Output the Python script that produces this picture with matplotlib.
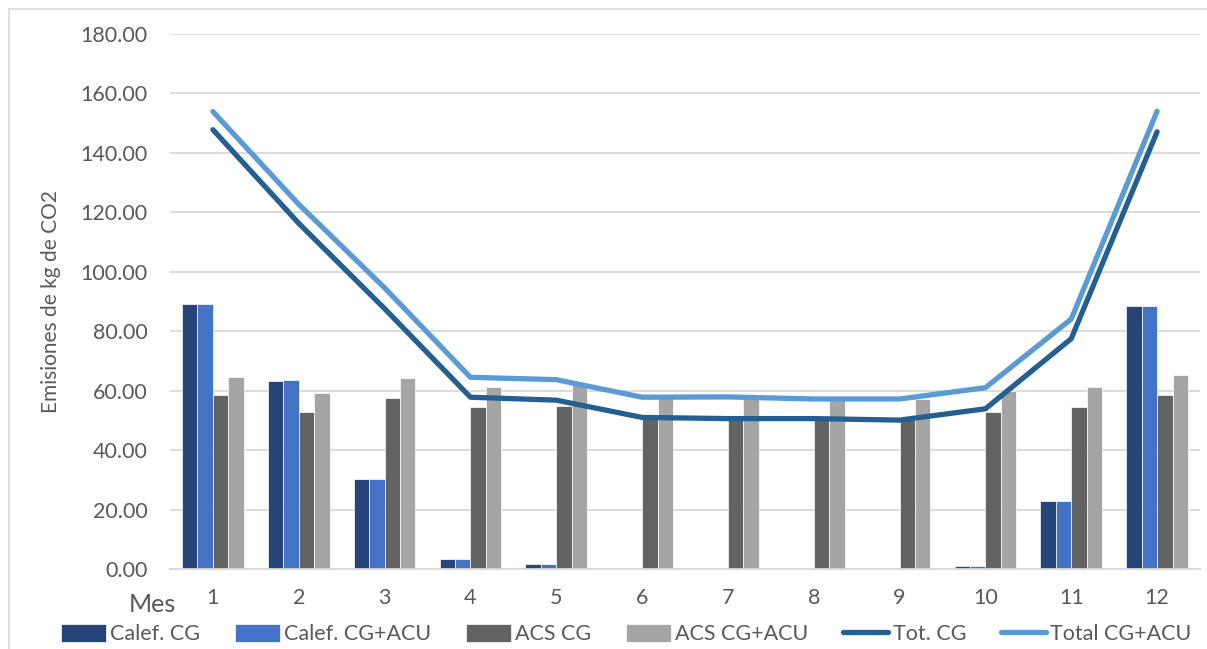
import numpy as np
import matplotlib.pyplot as plt
from matplotlib.patches import Rectangle

plt.rcParams['font.family'] = ['Lato', 'DejaVu Sans']

meses = [1, 2, 3, 4, 5, 6, 7, 8, 9, 10, 11, 12]
calef_cg = [89.2, 63.4, 30.2, 3.2, 1.8, 0.0, 0.0, 0.0, 0.0, 1.0, 23.0, 88.5]
calef_acu = [89.2, 63.6, 30.2, 3.2, 1.8, 0.0, 0.0, 0.0, 0.0, 1.0, 23.0, 88.6]
acs_cg = [58.6, 52.9, 57.4, 54.6, 55.0, 51.0, 50.6, 50.6, 50.1, 52.9, 54.5, 58.6]
acs_acu = [64.7, 59.1, 64.4, 61.3, 61.9, 57.8, 57.9, 57.2, 57.2, 60.0, 61.1, 65.4]
tot_cg = [147.8, 116.3, 87.6, 57.8, 56.8, 51.0, 50.6, 50.6, 50.1, 53.9, 77.5, 147.1]
total_acu = [153.9, 122.7, 94.6, 64.5, 63.7, 57.8, 57.9, 57.2, 57.2, 61.0, 84.1, 154.0]

W, H = 1207, 649
fig = plt.figure(figsize=(W / 100, H / 100), dpi=100)
ax = fig.add_axes([170 / W, 1 - 569 / H, (1200 - 170) / W, (569 - 34) / H])

x = np.arange(len(meses)) + 1
bw = 0.18
series = [
    (calef_cg, '#264478', 'Calef. CG'),
    (calef_acu, '#4472C4', 'Calef. CG+ACU'),
    (acs_cg, '#636363', 'ACS CG'),
    (acs_acu, '#A5A5A5', 'ACS CG+ACU'),
]
handles = []
for i, (vals, col, lab) in enumerate(series):
    b = ax.bar(x + (i - 1.5) * bw, vals, bw, color=col, edgecolor='#ffffff',
               linewidth=0.5, label=lab, zorder=2)
    handles.append(b)

l1, = ax.plot(x, tot_cg, color='#255E91', lw=3.8, solid_capstyle='round',
              solid_joinstyle='round', label='Tot. CG', zorder=3)
l2, = ax.plot(x, total_acu, color='#5B9BD5', lw=3.8, solid_capstyle='round',
              solid_joinstyle='round', label='Total CG+ACU', zorder=3)
handles += [l1, l2]

ax.set_xlim(0.5, 12.5)
ax.set_ylim(0, 180)
ax.set_yticks(np.arange(0, 181, 20))
ax.set_yticklabels(['%.2f' % v for v in np.arange(0, 181, 20)])
ax.set_xticks(x)
ax.set_xticklabels([str(m) for m in meses])
ax.grid(axis='y', color='#D9D9D9', lw=1.3, zorder=0)
ax.set_axisbelow(True)
for s in ['top', 'right', 'left']:
    ax.spines[s].set_visible(False)
ax.spines['bottom'].set_color('#D9D9D9')
ax.spines['bottom'].set_linewidth(1.3)
ax.tick_params(axis='both', length=0, labelsize=15.5, colors='#595959')
ax.tick_params(axis='y', pad=16)
ax.tick_params(axis='x', pad=14)

ax.set_ylabel('Emisiones de kg de CO2', fontsize=15, color='#595959', labelpad=14)
fig.text(176 / W, 1 - 604 / H, 'Mes', fontsize=18, color='#595959',
         ha='right', va='center')

fig.legend(handles=handles, loc='center', bbox_to_anchor=(626 / W, 1 - 634 / H),
           ncol=6, frameon=False, fontsize=15.5, labelcolor='#595959',
           handlelength=2.1, handleheight=0.9, handletextpad=0.2,
           columnspacing=1.6)

fig.add_artist(Rectangle((9 / W, -0.1), 1.2, 1.1 - 9 / H, transform=fig.transFigure,
                         fill=False, edgecolor='#D9D9D9', lw=1.2))

fig.savefig('out.png', dpi=100)
